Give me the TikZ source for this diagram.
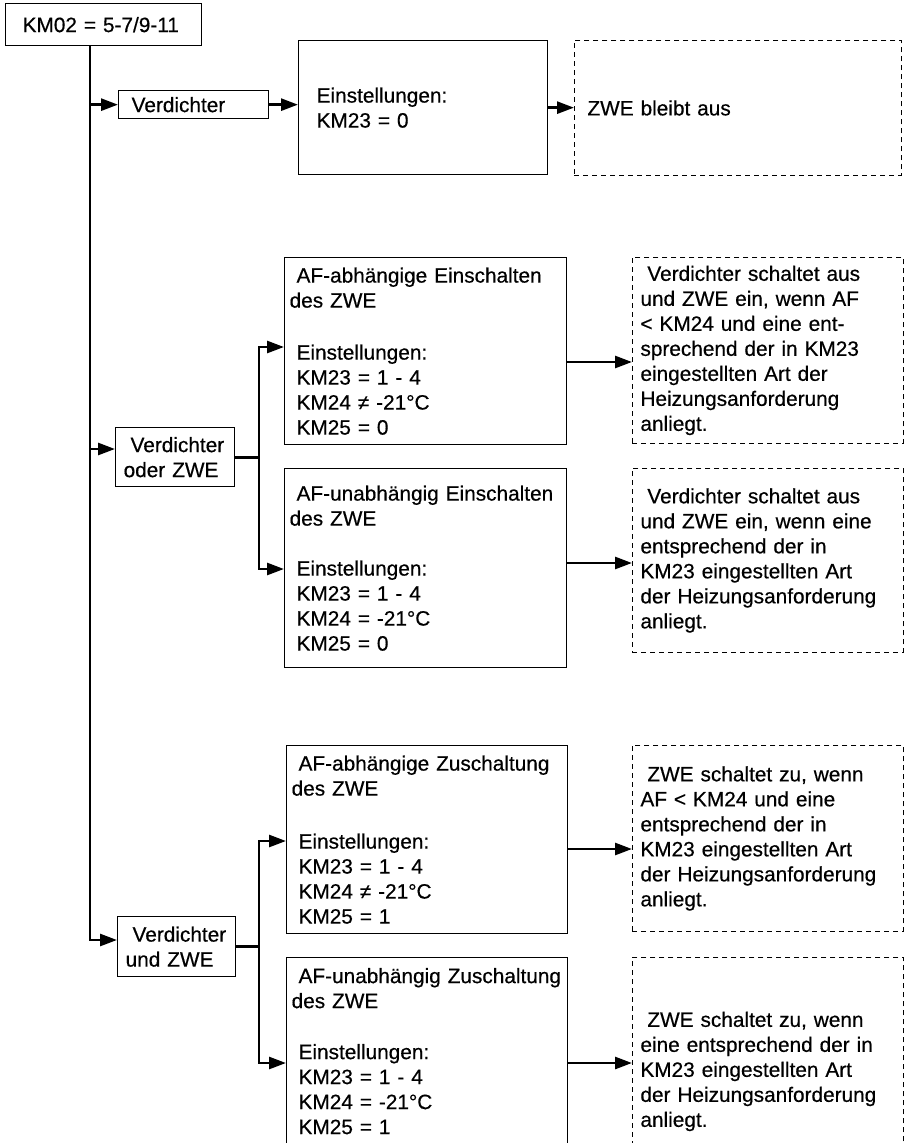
\documentclass[tikz,border=0pt]{standalone}
\usepackage{fontspec}
\setmainfont{Liberation Sans}[FakeBold=0.5]
\usetikzlibrary{arrows.meta, positioning}

\begin{document}
\begin{tikzpicture}[
	x=1pt, y=-1pt,
	every node/.style={font=\fontsize{20.8}{25}\selectfont, align=left, inner ysep=0pt, anchor=north west},
	box/.style={draw, line width=1.3pt, inner xsep=5pt},
	dashbox/.style={draw, dash pattern=on 5pt off 4pt, line width=0.9pt, inner xsep=8pt},
	wire/.style={line width=2.7pt},
	arrow/.style={wire, -{Triangle[length=17pt,width=12pt]}}
]
\useasboundingbox (0,0) rectangle (905,1143);
\clip (0,0) rectangle (905,1143);

% start
\node[box, inner xsep=17pt, text width=162pt, minimum height=42pt] (km02) at (5,3) {KM02 = 5-7/9-11};
\coordinate (trunktop) at (90,45);

% nur Verdichter
\node[box, inner xsep=13pt, text width=124pt, minimum height=28pt] (verd) at (118,90) {Verdichter};
\node[box, inner xsep=18pt, text width=213pt, minimum height=134pt] (einst) at (298,40) {Einstellungen:\\KM23 = 0};
\node[dashbox, inner xsep=13pt, text width=301pt, minimum height=135pt] (zweaus) at (574,40) {ZWE bleibt aus};

% Verdichter oder ZWE
\node[box, inner xsep=8pt, text width=103pt, minimum height=59pt] (verdoder) at (115,427) {~Verdichter\\oder ZWE};
\node[box, text width=272pt, minimum height=187pt] (afab) at (284,257)
	{~AF-abhängige Einschalten\\des ZWE\\[27pt]~Einstellungen:\\~KM23 = 1 - 4\\~KM24 ≠ -21°C\\~KM25 = 0};
\node[dashbox, text width=255pt, minimum height=186pt] (dash1) at (632,257)
	{~Verdichter schaltet aus\\und ZWE ein, wenn AF\\< KM24 und eine ent-\\sprechend der in KM23\\eingestellten Art der\\Heizungsanforderung\\anliegt.};
\node[box, text width=272pt, minimum height=199pt] (afunab) at (284,468)
	{~AF-unabhängig Einschalten\\des ZWE\\[25pt]~Einstellungen:\\~KM23 = 1 - 4\\~KM24 = -21°C\\~KM25 = 0};
\node[dashbox, text width=255pt, minimum height=184pt] (dash2) at (632,468)
	{~Verdichter schaltet aus\\und ZWE ein, wenn eine\\entsprechend der in\\KM23 eingestellten Art\\der Heizungsanforderung\\anliegt.};

% Verdichter und ZWE
\node[box, inner xsep=8pt, text width=102pt, minimum height=60pt] (verdund) at (117,916) {~Verdichter\\und ZWE};
\node[box, text width=271pt, minimum height=188pt] (af3a) at (286,745)
	{~AF-abhängige Zuschaltung\\des ZWE\\[28pt]~Einstellungen:\\~KM23 = 1 - 4\\~KM24 ≠ -21°C\\~KM25 = 1};
\node[dashbox, text width=255pt, minimum height=186pt] (dash3a) at (632,745)
	{~ZWE schaltet zu, wenn\\AF < KM24 und eine\\entsprechend der in\\KM23 eingestellten Art\\der Heizungsanforderung\\anliegt.};
\node[box, text width=271pt, minimum height=187pt] (af3b) at (286,957)
	{~AF-unabhängig Zuschaltung\\des ZWE\\[26pt]~Einstellungen:\\~KM23 = 1 - 4\\~KM24 = -21°C\\~KM25 = 1};
\node[dashbox, text width=255pt, minimum height=228pt] (dash3b) at (632,957)
	{~ZWE schaltet zu, wenn\\eine entsprechend der in\\KM23 eingestellten Art\\der Heizungsanforderung\\anliegt.};

% Anschlusspunkte
\coordinate (in2) at ([yshift=-22pt]verdoder.north west);
\coordinate (in3) at ([yshift=-24pt]verdund.north west);
\coordinate (br) at (259,0);
\coordinate (a2a) at ([yshift=-90pt]afab.north west);
\coordinate (a2b) at ([yshift=-101pt]afunab.north west);
\coordinate (o2a) at ([yshift=-105pt]afab.north east);
\coordinate (o2b) at ([yshift=-95pt]afunab.north east);
\coordinate (a3a) at ([yshift=-96pt]af3a.north west);
\coordinate (a3b) at ([yshift=-106pt]af3b.north west);
\coordinate (o3a) at ([yshift=-104pt]af3a.north east);
\coordinate (o3b) at ([yshift=-106pt]af3b.north east);

% Stamm
\draw[arrow] (trunktop) |- (in3);
\draw[arrow] (trunktop |- verd.west) -- (verd.west);
\draw[arrow] (trunktop |- in2) -- (in2);

\draw[arrow] (verd.east) -- (verd.east -| einst.west);
\draw[arrow] (einst.east) -- (einst.east -| zweaus.west);

\draw[arrow] (verdoder.east) -| (br |- a2a) -- (a2a);
\draw[arrow] (br |- verdoder.east) |- (a2b);
\draw[arrow] (o2a) -- (o2a -| dash1.west);
\draw[arrow] (o2b) -- (o2b -| dash2.west);

\draw[arrow] (verdund.east) -| (br |- a3a) -- (a3a);
\draw[arrow] (br |- verdund.east) |- (a3b);
\draw[arrow] (o3a) -- (o3a -| dash3a.west);
\draw[arrow] (o3b) -- (o3b -| dash3b.west);
\end{tikzpicture}
\end{document}
